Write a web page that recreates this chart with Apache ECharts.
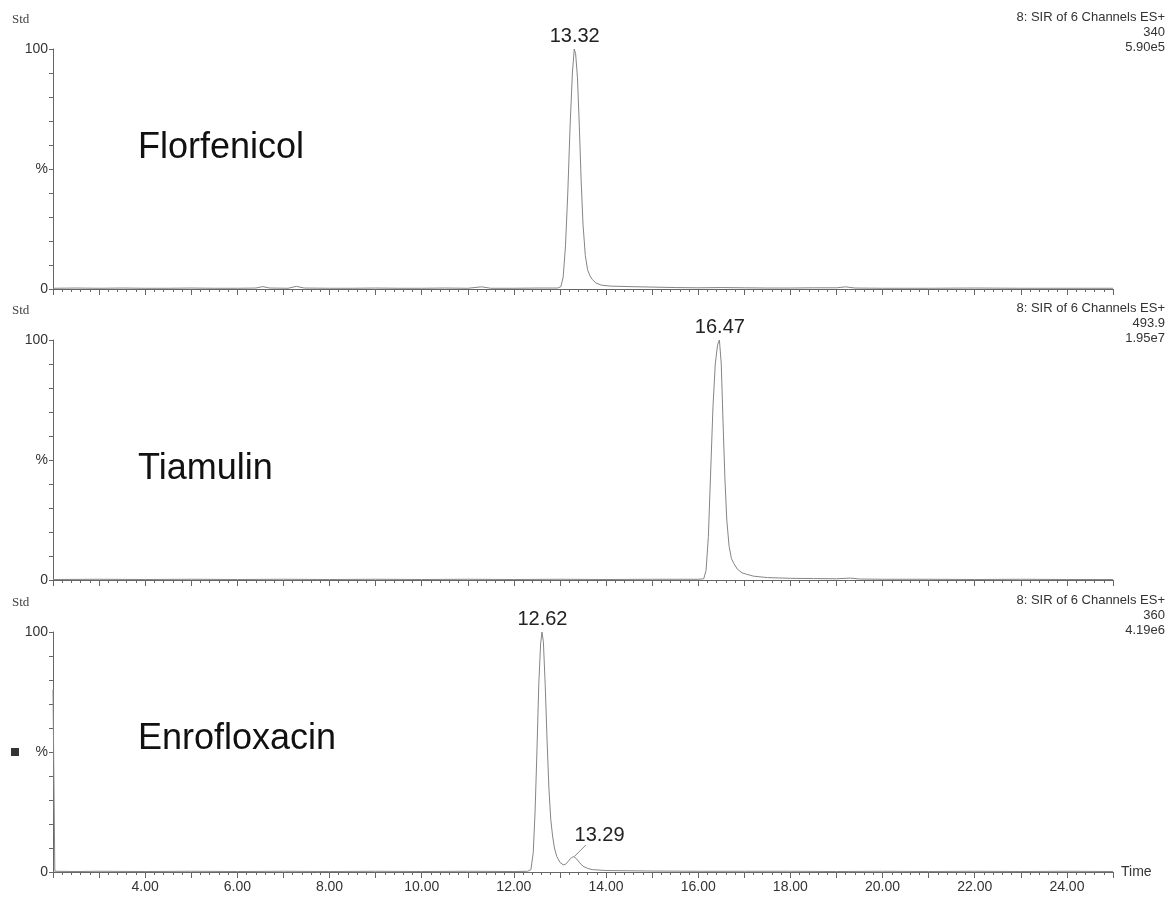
<!DOCTYPE html>
<html>
<head>
<meta charset="utf-8">
<script src="https://cdn.jsdelivr.net/npm/echarts@6/dist/echarts.min.js"></script>
<style>
html,body{margin:0;padding:0;background:#fff;}
#chart{width:1171px;height:900px;}
</style>
</head>
<body>
<div id="chart"></div>
<script>
// ---- data ----
const compounds = ['Florfenicol', 'Tiamulin', 'Enrofloxacin'];
const channelTitle = '8: SIR of 6 Channels ES+';
const massValues = ['340', '493.9', '360'];
const intensityValues = ['5.90e5', '1.95e7', '4.19e6'];
const xTickLabels = [4, 6, 8, 10, 12, 14, 16, 18, 20, 22, 24];

const florfenicolTrace = [
  [2.0,0.3],[2.5,0.4],[3.0,0.3],[3.5,0.4],[4.0,0.3],[4.5,0.3],[5.0,0.4],[5.5,0.3],[6.0,0.3],[6.4,0.4],
  [6.55,1.0],[6.7,0.4],[7.1,0.3],[7.28,1.1],[7.45,0.4],[8.0,0.3],[8.5,0.3],[9.0,0.4],[9.5,0.3],[10.0,0.3],
  [10.5,0.4],[11.0,0.3],[11.3,0.9],[11.5,0.3],[12.0,0.3],[12.5,0.4],[12.95,0.4],[13.02,1.0],[13.07,5],
  [13.12,18],[13.17,40],[13.22,68],[13.27,90],[13.31,100],[13.34,98],[13.38,88],[13.42,68],[13.46,45],
  [13.5,27],[13.55,14],[13.6,8],[13.65,5.5],[13.7,4],[13.78,2.5],[13.9,1.6],[14.1,1.2],[14.5,1.0],
  [15.0,0.8],[15.5,0.6],[16.0,0.5],[16.5,0.6],[17.0,0.5],[17.5,0.4],[18.0,0.4],[18.5,0.5],[19.0,0.5],
  [19.2,0.9],[19.4,0.4],[20.0,0.3],[21.0,0.3],[22.0,0.4],[23.0,0.3],[24.0,0.3],[25.0,0.3]
];
const tiamulinTrace = [
  [2.0,0.2],[3.0,0.3],[4.0,0.2],[5.0,0.3],[6.0,0.2],[7.0,0.3],[8.0,0.2],[9.0,0.3],[10.0,0.2],[11.0,0.3],
  [12.0,0.2],[13.0,0.3],[14.0,0.2],[15.0,0.3],[16.0,0.3],[16.12,0.5],[16.17,4],[16.22,18],[16.27,45],
  [16.32,72],[16.37,90],[16.42,98],[16.46,100],[16.5,90],[16.54,65],[16.58,42],[16.62,25],[16.67,14],
  [16.72,9],[16.77,7],[16.85,4.5],[16.95,3],[17.05,2.4],[17.2,1.6],[17.5,1.0],[18.0,0.7],[18.5,0.6],
  [19.0,0.5],[19.3,0.8],[19.5,0.4],[20.0,0.3],[21.0,0.3],[22.0,0.2],[23.0,0.3],[24.0,0.2],[25.0,0.2]
];
const enrofloxacinTrace = [
  [2.0,76],[2.04,0.3],[2.5,0.2],[3.0,0.3],[4.0,0.2],[5.0,0.3],[6.0,0.2],[7.0,0.3],[8.0,0.2],[9.0,0.3],
  [10.0,0.2],[11.0,0.3],[12.0,0.2],[12.3,0.3],[12.37,1],[12.42,8],[12.46,25],[12.5,50],[12.54,78],
  [12.58,95],[12.61,100],[12.64,96],[12.68,78],[12.72,55],[12.76,35],[12.8,22],[12.84,15],[12.88,10],
  [12.93,6.5],[13.0,4],[13.07,3],[13.12,3.2],[13.18,4.5],[13.25,6],[13.3,6.4],[13.36,5.5],[13.43,3.8],
  [13.5,2.4],[13.6,1.5],[13.7,1.0],[14.0,0.6],[15.0,0.4],[16.0,0.3],[17.0,0.3],[18.0,0.3],[19.0,0.2],
  [20.0,0.3],[21.0,0.2],[22.0,0.3],[23.0,0.2],[24.0,0.3],[25.0,0.2]
];
const traces = [florfenicolTrace, tiamulinTrace, enrofloxacinTrace];

// peak annotations: [time, %, label]
const peakLabels = [
  [[13.32, 100, '13.32']],
  [[16.47, 100, '16.47']],
  [[12.62, 100, '12.62']]
];
// minor peak with leader line: [start time, start %, end time, end %, label time, label %, text]
const minorPeakLabel = [13.31, 6.4, 13.56, 11.2, 13.86, 15.4, '13.29'];

// ---- layout ----
const gridTops = [49, 340, 632];
const gridH = 240;
const leftX = 53, rightPad = 58;
const traceColor = '#858585';
const axisColor = '#666';
const textColor = '#333';
const sans = '"Liberation Sans", Arial, sans-serif';

const chart = echarts.init(document.getElementById('chart'), null, {renderer: 'canvas'});

const grids = [], xAxes = [], yAxes = [], series = [], graphics = [];

for (let i = 0; i < 3; i++) {
  grids.push({left: leftX, right: rightPad, top: gridTops[i], height: gridH, containLabel: false});
  const last = i === 2;
  xAxes.push({
    type: 'value', gridIndex: i, min: 2, max: 25, interval: 1,
    name: last ? 'Time' : '', nameLocation: 'end', nameGap: 8,
    nameTextStyle: {color: textColor, fontSize: 14, fontFamily: sans},
    axisLine: {show: true, onZero: false, lineStyle: {color: axisColor, width: 1}},
    axisTick: {show: true, length: 6, lineStyle: {color: axisColor}},
    minorTick: {show: true, splitNumber: 5, length: 3, lineStyle: {color: axisColor}},
    splitLine: {show: false},
    axisLabel: {
      show: last, color: textColor, fontSize: 14, margin: 8, fontFamily: sans,
      formatter: v => xTickLabels.indexOf(v) >= 0 ? v.toFixed(2) : ''
    }
  });
  yAxes.push({
    type: 'value', gridIndex: i, min: 0, max: 100, interval: 10,
    axisLine: {show: true, lineStyle: {color: axisColor, width: 1}},
    axisTick: {show: true, length: 4, lineStyle: {color: axisColor}},
    splitLine: {show: false},
    axisLabel: {
      color: textColor, fontSize: 14, margin: 5, fontFamily: sans,
      formatter: v => v === 0 ? '0' : v === 100 ? '100' : v === 50 ? '%' : ''
    }
  });

  const s = {
    type: 'line', xAxisIndex: i, yAxisIndex: i, data: traces[i],
    showSymbol: false, symbol: 'none', animation: false,
    lineStyle: {color: traceColor, width: 1},
    markPoint: {
      symbol: 'circle', symbolSize: 0, animation: false,
      label: {show: true, position: 'top', distance: 3, color: '#222', fontSize: 20,
        fontFamily: sans, formatter: p => p.name},
      data: peakLabels[i].map(p => ({name: p[2], coord: [p[0], p[1]]}))
    }
  };
  if (i === 2) {
    const m = minorPeakLabel;
    s.markPoint.data.push({name: m[6], coord: [m[4], m[5]],
      label: {position: 'inside', distance: 0}});
    s.markLine = {
      symbol: 'none', animation: false, silent: true,
      lineStyle: {color: traceColor, width: 1, type: 'solid'},
      label: {show: false},
      data: [[{coord: [m[0], m[1]]}, {coord: [m[2], m[3]]}]]
    };
  }
  series.push(s);

  const top = gridTops[i];
  graphics.push({type: 'text', left: 12, top: top - 36,
    style: {text: 'Std', fill: '#444', font: '13px "Liberation Serif", "DejaVu Serif", serif'}});
  const rightLines = [channelTitle, massValues[i], intensityValues[i]];
  rightLines.forEach((t, k) => {
    graphics.push({type: 'text', right: 6, top: top - 38 + k * 15,
      style: {text: t, fill: textColor, font: '13px ' + sans}});
  });
  graphics.push({type: 'text', left: 138, top: top + [81, 111, 89][i],
    style: {text: compounds[i], fill: '#111', font: '36px ' + sans}});
}
graphics.push({type: 'rect', left: 11, top: 748, shape: {width: 8, height: 8}, style: {fill: '#333'}});

chart.setOption({
  backgroundColor: '#fff',
  animation: false,
  grid: grids, xAxis: xAxes, yAxis: yAxes, series: series, graphic: graphics
});
</script>
</body>
</html>
